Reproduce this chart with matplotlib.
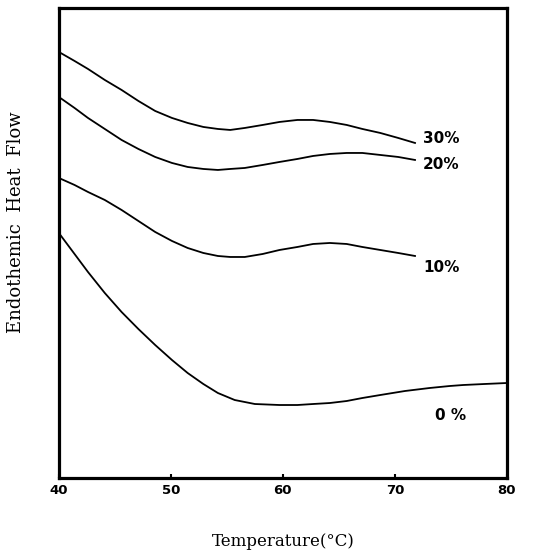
import matplotlib.pyplot as plt

# temperature (C) and heat flow (arbitrary units)
temp_30 = [40, 41.4, 42.6, 44.1, 45.6, 47.1, 48.6, 50.1, 51.5, 52.9, 54.2, 55.3,
           56.6, 58.2, 59.7, 61.3, 62.7, 64.2, 65.7, 67.1, 68.7, 70.3, 71.8]
flow_30 = [426, 417, 409, 398, 388, 377, 367, 360, 355, 351, 349, 348,
           350, 353, 356, 358, 358, 356, 353, 349, 345, 340, 335]

temp_20 = temp_30
flow_20 = [381, 370, 360, 349, 338, 329, 321, 315, 311, 309, 308, 309,
           310, 313, 316, 319, 322, 324, 325, 325, 323, 321, 318]

temp_10 = temp_30
flow_10 = [300, 293, 286, 278, 268, 257, 246, 237, 230, 225, 222, 221,
           221, 224, 228, 231, 234, 235, 234, 231, 228, 225, 222]

temp_0 = [40, 41.4, 42.6, 44.1, 45.6, 47.1, 48.6, 50.1, 51.5, 52.9, 54.2, 55.7,
          57.5, 59.7, 61.3, 62.7, 64.2, 65.7, 67.1, 68.7, 70.9, 73.1, 74.9,
          76.1, 78.0, 80]
flow_0 = [245, 224, 206, 185, 166, 149, 133, 118, 105, 94, 85, 78,
          74, 73, 73, 74, 75, 77, 80, 83, 87, 90, 92,
          93, 94, 95]

curve_labels = ["30%", "20%", "10%", "0 %"]
label_pos = [(72.5, 339), (72.5, 313), (72.5, 210), (73.6, 63)]

xticks = [40, 50, 60, 70, 80]

fig = plt.figure(figsize=(5.45, 5.55), dpi=100)
ax = fig.add_axes([0.108, 0.1387, 0.822, 0.847])

for t, f in [(temp_30, flow_30), (temp_20, flow_20), (temp_10, flow_10), (temp_0, flow_0)]:
    ax.plot(t, f, color="black", linewidth=1.3)

for lab, (x, y) in zip(curve_labels, label_pos):
    ax.text(x, y, lab, fontsize=11, fontweight="bold", family="DejaVu Sans",
            va="center", ha="left")

ax.set_xlim(40, 80)
ax.set_ylim(0, 470)
ax.set_xticks(xticks)
ax.set_xticklabels([str(v) for v in xticks], fontsize=9.5, fontweight="heavy")
ax.set_yticks([])
ax.tick_params(axis="x", direction="in", length=3, width=1.5, pad=4)

for s in ax.spines.values():
    s.set_linewidth(2.3)

ax.set_xlabel("Temperature(\u00b0C)", fontsize=12, family="DejaVu Serif", labelpad=26)
ax.set_ylabel("Endothemic  Heat  Flow", fontsize=13, family="DejaVu Serif")
ax.yaxis.set_label_coords(-0.075, 0.545)

fig.savefig("out.png", dpi=100)
